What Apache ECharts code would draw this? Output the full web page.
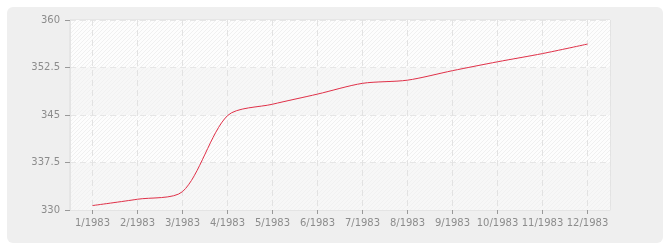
<!DOCTYPE html>
<html>
<head>
<meta charset="utf-8">
<style>
html,body{margin:0;padding:0;background:#fff;}
#c{width:670px;height:250px;}
</style>
<script src="https://cdn.jsdelivr.net/npm/echarts@6/dist/echarts.min.js"></script>
</head>
<body>
<div id="c"></div>
<script>
var categories = ['1/1983','2/1983','3/1983','4/1983','5/1983','6/1983','7/1983','8/1983','9/1983','10/1983','11/1983','12/1983'];
var values = [330.7, 331.7, 332.9, 344.9, 346.7, 348.3, 350.0, 350.5, 352.0, 353.4, 354.7, 356.2];
var yTicks = [330, 337.5, 345, 352.5, 360];

// half-step slots used only to place vertical grid lines at category centres
var halfSlots = [];
categories.forEach(function(c){ halfSlots.push(c + 'a', c + 'b'); });

function hatch(bg, line){
  var s = 4;
  var c = document.createElement('canvas');
  c.width = s; c.height = s;
  var g = c.getContext('2d');
  g.fillStyle = bg; g.fillRect(0,0,s,s);
  g.strokeStyle = line; g.lineWidth = 1;
  g.beginPath();
  g.moveTo(0,s); g.lineTo(s,0);
  g.moveTo(-s/2,s/2); g.lineTo(s/2,-s/2);
  g.moveTo(s/2,s*1.5); g.lineTo(s*1.5,s/2);
  g.stroke();
  return {image: c, repeat: 'repeat'};
}

var chart = echarts.init(document.getElementById('c'), null, {renderer:'canvas'});
var font = 'DejaVu Sans';
chart.setOption({
  animation: false,
  backgroundColor: 'transparent',
  graphic: [{
    type: 'rect', z: -10, silent: true,
    shape: {x: 7, y: 7, width: 656, height: 236, r: 6},
    style: {fill: '#efefef'}
  }],
  grid: {left: 70, top: 20, right: 60, bottom: 40, show: true, borderColor: '#dcdcdc', borderWidth: 1, backgroundColor: '#ffffff'},
  xAxis: [{
    type: 'category',
    data: categories,
    boundaryGap: true,
    axisLine: {show: true, lineStyle: {color: '#e4e4e4'}},
    axisTick: {show: true, alignWithLabel: true, length: 4, lineStyle: {color: '#999'}},
    axisLabel: {color: '#8c8c8c', fontFamily: font, fontSize: 10, margin: 8, interval: 0},
    splitLine: {show: false}
  }, {
    type: 'category',
    data: halfSlots,
    boundaryGap: true,
    position: 'bottom',
    axisLine: {show: false},
    axisTick: {show: false},
    axisLabel: {show: false},
    splitLine: {show: true, interval: function(i){ return i % 2 === 1; }, lineStyle: {color: '#e2e2e2', type: [6,4]}}
  }],
  yAxis: {
    type: 'value',
    min: yTicks[0], max: yTicks[yTicks.length-1], interval: 7.5,
    axisLine: {show: true, lineStyle: {color: '#e4e4e4'}},
    axisTick: {show: true, length: 5, lineStyle: {color: '#999'}},
    axisLabel: {color: '#8c8c8c', fontFamily: font, fontSize: 10, margin: 10,
      formatter: function(v){ return String(v); }},
    splitLine: {show: true, lineStyle: {color: '#e6e6e6', type: [6,4]}},
    splitArea: {show: true, areaStyle: {color: [hatch('#f7f7f7','#f1f1f1'), hatch('#fdfdfd','#f0f0f0')]}}
  },
  series: [{
    type: 'line',
    xAxisIndex: 0,
    data: values,
    smooth: 0.28,
    smoothConstraint: false,
    symbol: 'none',
    lineStyle: {color: '#e03048', width: 1},
    z: 5
  }]
});
</script>
</body>
</html>
